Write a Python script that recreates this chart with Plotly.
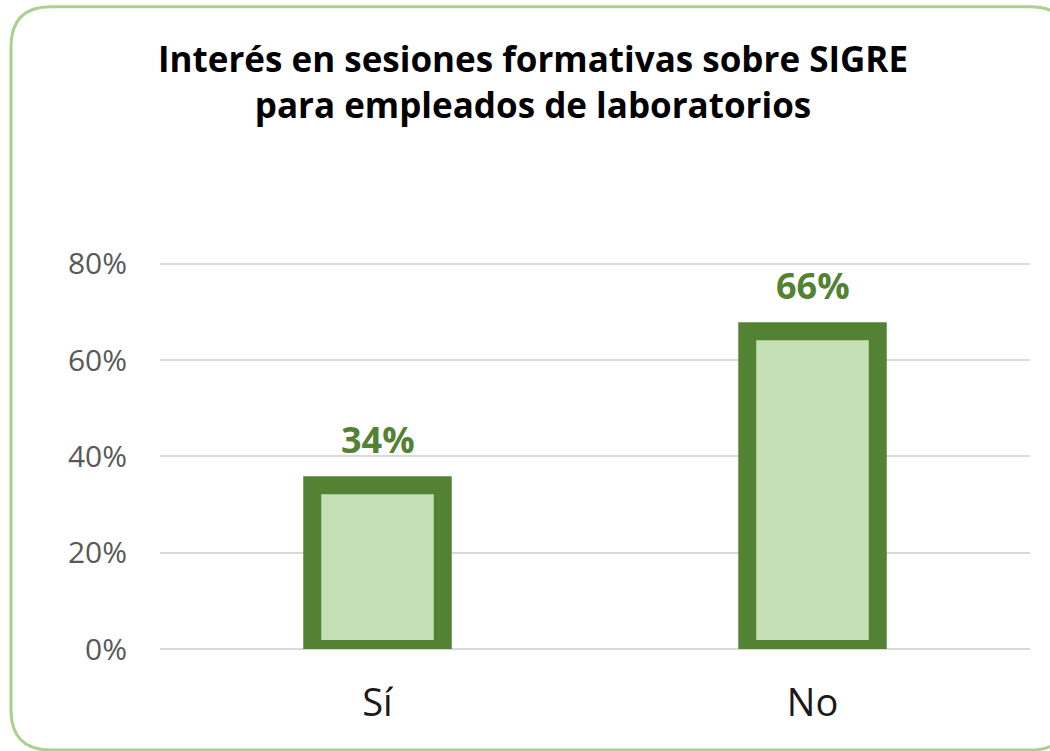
import plotly.graph_objects as go

categories = ["Sí", "No"]
values = [0.34, 0.66]
y_tick_values = [0, 0.2, 0.4, 0.6, 0.8]
y_tick_labels = ["0%", "20%", "40%", "60%", "80%"]
title_lines = ["Interés en sesiones formativas sobre SIGRE", "para empleados de laboratorios"]

W, H = 1050, 751
Y_TOP = 0.81
PX_PER_UNIT = 385 / 0.8
ML, MR, MB = 160, 20, 102
PH = Y_TOP * PX_PER_UNIT
MT = H - MB - PH
PW = W - ML - MR

def px2paper(x, y):
    return (x - ML) / PW, (H - MB - y) / PH

FONT = "Open Sans"
DARK_GREEN = "#548235"
LIGHT_GREEN = "#C5E0B4"
BORDER = "#A9D18E"
GRID = "#D9D9D9"

fig = go.Figure()
fig.add_trace(go.Bar(
    x=categories, y=values,
    marker=dict(color=LIGHT_GREEN, line=dict(color=DARK_GREEN, width=18)),
    hoverinfo="skip",
))

for c, v in zip(categories, values):
    fig.add_annotation(x=c, y=v, text=f"<b>{round(v*100)}%</b>", showarrow=False,
                       yanchor="bottom", yshift=19,
                       font=dict(family=FONT, size=36, color=DARK_GREEN))

# rounded border
x0, y0, x1, y1, r = 11, 7, 1070, 750, 40
def P(x, y):
    a, b = px2paper(x, y)
    return f"{a:.5f},{b:.5f}"
path = (f"M {P(x0+r,y0)} L {P(x1-r,y0)} Q {P(x1,y0)} {P(x1,y0+r)} "
        f"L {P(x1,y1-r)} Q {P(x1,y1)} {P(x1-r,y1)} L {P(x0+r,y1)} "
        f"Q {P(x0,y1)} {P(x0,y1-r)} L {P(x0,y0+r)} Q {P(x0,y0)} {P(x0+r,y0)} Z")
fig.add_shape(type="path", path=path, xref="paper", yref="paper",
              line=dict(color=BORDER, width=3), fillcolor="rgba(0,0,0,0)", layer="above")

fig.update_layout(
    width=W, height=H,
    margin=dict(l=ML, r=MR, t=MT, b=MB),
    paper_bgcolor="white", plot_bgcolor="white",
    showlegend=False,
    bargap=0.70,
    title=dict(text="<b>" + "<br>".join(title_lines) + "</b>",
               x=533 / W, xanchor="center", y=1 - 72 / H, yanchor="top",
               font=dict(family=FONT, size=35, color="#000000")),
    font=dict(family=FONT),
)
fig.update_yaxes(range=[0, Y_TOP], tickvals=y_tick_values, ticktext=y_tick_labels,
                 showgrid=True, gridcolor=GRID, gridwidth=2,
                 zeroline=True, zerolinecolor=GRID, zerolinewidth=2,
                 showline=False, ticks="",
                 ticklabelstandoff=32,
                 tickfont=dict(family=FONT, size=30, color="#595959"))
fig.update_xaxes(showgrid=False, showline=False, ticks="", zeroline=False,
                 ticklabelstandoff=28,
                 tickfont=dict(family=FONT, size=38, color="#1a1a1a"))

fig.write_html("out.html", config={"displayModeBar": False},
               post_script="document.body.style.margin='0';")
